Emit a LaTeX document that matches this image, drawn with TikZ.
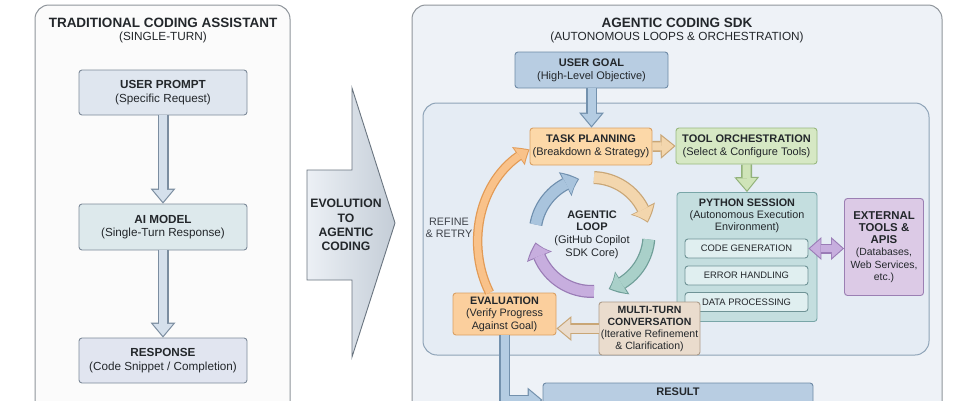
\documentclass[tikz,border=0pt]{standalone}
\usepackage{fontspec}
\setmainfont{Liberation Sans}
\usetikzlibrary{arrows.meta,bending,calc}
\definecolor{txt}{HTML}{23272b}
\definecolor{panelL}{HTML}{fbfbfb}
\definecolor{panelB}{HTML}{8f959b}
\definecolor{panelR}{HTML}{eef2f7}
\definecolor{innerF}{HTML}{e5ecf4}
\definecolor{innerB}{HTML}{8ea3b7}
\definecolor{promptF}{HTML}{dfe6ef}
\definecolor{promptB}{HTML}{7d8a99}
\definecolor{modelF}{HTML}{dde9ec}
\definecolor{respF}{HTML}{e1e5f0}
\definecolor{larrF}{HTML}{d5e0ec}
\definecolor{larrB}{HTML}{7b8da0}
\definecolor{goalF}{HTML}{b8cde2}
\definecolor{goalB}{HTML}{6e8aa6}
\definecolor{barrF}{HTML}{b4cce2}
\definecolor{barrB}{HTML}{7391ad}
\definecolor{taskF}{HTML}{fcd8a8}
\definecolor{taskB}{HTML}{d9a064}
\definecolor{evalF}{HTML}{fbcf9d}
\definecolor{toolF}{HTML}{d6e8c4}
\definecolor{toolB}{HTML}{98b87e}
\definecolor{pyF}{HTML}{c4dedf}
\definecolor{pyB}{HTML}{79a6a8}
\definecolor{subF}{HTML}{e0eff0}
\definecolor{subB}{HTML}{6f9396}
\definecolor{extF}{HTML}{dccae6}
\definecolor{extB}{HTML}{9b7fb3}
\definecolor{multiF}{HTML}{eadccd}
\definecolor{multiB}{HTML}{ad9c8a}
\definecolor{beigeF}{HTML}{f3d6ad}
\definecolor{beigeB}{HTML}{c9a676}
\definecolor{greenF}{HTML}{cfe4b8}
\definecolor{greenB}{HTML}{92b27a}
\definecolor{tealF}{HTML}{a9d0c9}
\definecolor{tealB}{HTML}{6f9e98}
\definecolor{purpF}{HTML}{c7aede}
\definecolor{purpB}{HTML}{9a7cb6}
\definecolor{blueF}{HTML}{a9c4dd}
\definecolor{blueB}{HTML}{6f8fae}
\definecolor{orF}{HTML}{f9c28a}
\definecolor{orB}{HTML}{e29a55}
\definecolor{evoB}{HTML}{6a7580}
\definecolor{evoL}{HTML}{ecf0f5}
\definecolor{evoR}{HTML}{c4cdd7}
\definecolor{refT}{HTML}{3f434a}

\newcommand{\hd}[1]{\textbf{#1}}
\newcommand{\blockarrow}[3]{%
  \draw[draw=#1, line width=11pt, -{Triangle[width=25pt,length=15pt,line width=0pt]}] #3;
  \draw[draw=#2, line width=8pt, shorten >=1.8pt, -{Triangle[width=20pt,length=12pt,line width=0pt]}] #3;}
\newcommand{\dblarrow}[3]{%
  \draw[draw=#1, line width=10pt, {Triangle[width=23pt,length=13pt,line width=0pt]}-{Triangle[width=23pt,length=13pt,line width=0pt]}] #3;
  \draw[draw=#2, line width=7pt, shorten >=1.6pt, shorten <=1.6pt, {Triangle[width=18.5pt,length=10.5pt,line width=0pt]}-{Triangle[width=18.5pt,length=10.5pt,line width=0pt]}] #3;}
\newcommand{\looparc}[4]{%
  \draw[draw=#1, line width=13pt, -{Triangle[bend,width=27pt,length=15pt,line width=0pt]}] ($(agloop.center)+(#3:57)$) arc[start angle=#3, end angle=#4, radius=57];
  \draw[draw=#2, line width=10.5pt, shorten >=1.6pt, -{Triangle[bend,width=23pt,length=12.5pt,line width=0pt]}] ($(agloop.center)+(#3:57)$) arc[start angle=#3, end angle=#4, radius=57];}

\tikzset{
  box/.style={draw, rounded corners=3pt, line width=0.9pt, align=center, inner sep=1pt, text=txt,
    font=\fontsize{11}{12.8}\selectfont},
  lbox/.style={box, minimum width=168pt, font=\fontsize{11.7}{13.5}\selectfont},
  subbox/.style={box, fill=subF, draw=subB, minimum width=123pt, minimum height=19pt,
    font=\fontsize{9.4}{11}\selectfont},
  plain/.style={align=center, text=txt, inner sep=0pt},
  panel/.style={rounded corners=14pt, line width=1pt},
}

\begin{document}
\begin{tikzpicture}[x=1pt,y=-1pt]
\useasboundingbox (0,0) rectangle (978,400);
\clip (0,0) rectangle (978,400);
\fill[white] (0,0) rectangle (978,400);

% panels
\draw[panel, fill=panelL, draw=panelB] (35,5) rectangle (290,440);
\draw[panel, fill=panelR, draw=panelB] (412,5) rectangle (942,440);
\draw[panel, fill=innerF, draw=innerB] (423,103) rectangle (929,355);

% left titles
\node[plain, font=\fontsize{13.5}{15}\selectfont\bfseries] (ltitle) at (163,23) {TRADITIONAL CODING ASSISTANT};
\node[plain, font=\fontsize{11.8}{13}\selectfont] (lsub) at (163,37) {(SINGLE-TURN)};

% left boxes
\node[lbox, fill=promptF, draw=promptB, minimum height=45pt] (prompt) at (163,92.5) {\hd{USER PROMPT}\\(Specific Request)};
\node[lbox, fill=modelF, draw=promptB, minimum height=46pt] (model) at (163,227) {\hd{AI MODEL}\\(Single-Turn Response)};
\node[lbox, fill=respF, draw=promptB, minimum height=45pt] (resp) at (163,360.5) {\hd{RESPONSE}\\(Code Snippet / Completion)};
\blockarrow{larrB}{larrF}{(prompt.south) -- (model.north)}
\blockarrow{larrB}{larrF}{(model.south) -- (resp.north)}

% evolution arrow
\shade[left color=evoL, right color=evoR]
  (307,170) -- (352,170) -- (352,88) -- (395,223) -- (352,357) -- (352,280) -- (307,280) -- cycle;
\draw[draw=evoB, line width=0.9pt]
  (307,170) -- (352,170) -- (352,88) -- (395,223) -- (352,357) -- (352,280) -- (307,280) -- cycle;
\node[plain, font=\fontsize{12.2}{14.2}\selectfont\bfseries] (evo) at (346,225) {EVOLUTION\\TO\\AGENTIC\\CODING};

% right titles
\node[plain, font=\fontsize{13.5}{15}\selectfont\bfseries] (rtitle) at (677,23) {AGENTIC CODING SDK};
\node[plain, font=\fontsize{11.8}{13}\selectfont] (rsub) at (677,37) {(AUTONOMOUS LOOPS \& ORCHESTRATION)};

% right boxes
\node[box, fill=goalF, draw=goalB, minimum width=153pt, minimum height=36pt] (goal) at (591.5,70) {\hd{USER GOAL}\\(High-Level Objective)};
\node[box, fill=taskF, draw=taskB, minimum width=122pt, minimum height=37pt] (task) at (591,146.5) {\hd{TASK PLANNING}\\(Breakdown \& Strategy)};
\node[box, fill=toolF, draw=toolB, minimum width=141pt, minimum height=36pt] (tool) at (746.5,146) {\hd{TOOL ORCHESTRATION}\\(Select \& Configure Tools)};
\node[box, fill=pyF, draw=pyB, minimum width=140pt, minimum height=129pt] (py) at (747,257) {};
\node[plain, font=\fontsize{10.8}{12}\selectfont] (pytitle) at (747,216) {\hd{PYTHON SESSION}\\(Autonomous Execution\\Environment)};
\node[subbox] (codegen) at (746.5,248.5) {CODE GENERATION};
\node[subbox] (errh) at (746.5,275.5) {ERROR HANDLING};
\node[subbox] (datap) at (746.5,302) {DATA PROCESSING};
\node[box, fill=extF, draw=extB, minimum width=79pt, minimum height=97pt, font=\fontsize{10.4}{12.2}\selectfont] (ext) at (884,247) {{\fontsize{11.4}{13}\selectfont\hd{EXTERNAL}}\\{\fontsize{11.4}{13}\selectfont\hd{TOOLS \&}}\\{\fontsize{11.4}{13}\selectfont\hd{APIS}}\\(Databases,\\Web Services,\\etc.)};
\node[box, fill=evalF, draw=taskB, minimum width=103pt, minimum height=42pt, font=\fontsize{10.8}{12.4}\selectfont] (eval) at (504.5,314) {\hd{EVALUATION}\\(Verify Progress\\Against Goal)};
\node[box, fill=multiF, draw=multiB, minimum width=101pt, minimum height=53pt, font=\fontsize{10.5}{12}\selectfont] (multi) at (649.5,328.5) {\hd{MULTI-TURN}\\\hd{CONVERSATION}\\(Iterative Refinement\\\& Clarification)};
\node[box, fill=goalF, draw=goalB, minimum width=270pt, minimum height=34pt] (result) at (678,400) {\hd{RESULT}\\\strut};

% loop
\node[plain, font=\fontsize{11}{12.8}\selectfont] (agloop) at (592,234.5) {\hd{AGENTIC}\\\hd{LOOP}\\(GitHub Copilot\\SDK Core)};
\looparc{blueB}{blueF}{190}{257}
\looparc{beigeB}{beigeF}{272}{348}
\looparc{tealB}{tealF}{365}{433}
\looparc{purpB}{purpF}{88}{172}

% connectors
\blockarrow{barrB}{barrF}{(goal.south) -- (goal.south |- task.north)}
\blockarrow{beigeB}{beigeF}{(task.east) -- (tool.west)}
\blockarrow{greenB}{greenF}{(tool.south) -- (py.north)}
\dblarrow{purpB}{purpF}{(codegen.east) -- (codegen.east -| ext.west)}
\blockarrow{beigeB}{multiF}{(multi.west) -- (multi.west -| eval.east)}
\draw[draw=barrB, line width=11pt, -{Triangle[width=25pt,length=15pt,line width=0pt]}] (eval.south) |- (result.west);
\draw[draw=barrF, line width=8pt, shorten >=1.8pt, -{Triangle[width=20pt,length=12pt,line width=0pt]}] (eval.south) |- (result.west);

% refine & retry
\draw[draw=orB, line width=9.5pt, -{Triangle[bend,width=22pt,length=13pt,line width=0pt]}] ([xshift=-15pt]eval.north) .. controls +(-25,-50) and +(-50,25) .. ([yshift=-3pt]task.west);
\draw[draw=orF, line width=7pt, shorten >=1.6pt, -{Triangle[bend,width=18pt,length=10.5pt,line width=0pt]}] ([xshift=-15pt]eval.north) .. controls +(-25,-50) and +(-50,25) .. ([yshift=-3pt]task.west);
\node[plain, font=\fontsize{10.8}{12.5}\selectfont, text=refT] (refine) at (449,228) {REFINE\\\& RETRY};
\end{tikzpicture}
\end{document}
